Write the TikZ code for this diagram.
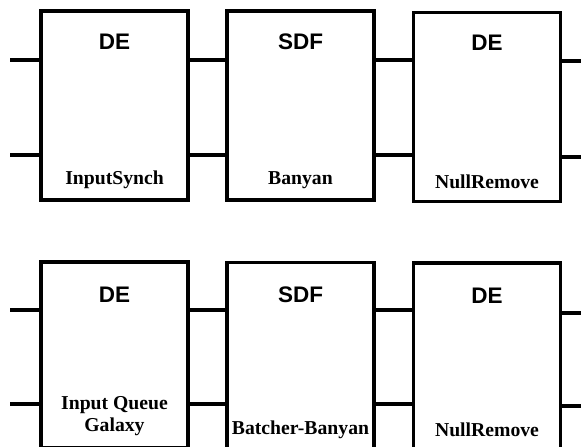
\documentclass[tikz,border=0pt]{standalone}
\usepackage{fontspec}
\setmainfont{Liberation Serif}
\newfontfamily\domainfont{Liberation Sans}
\usepackage{tikz}
\usetikzlibrary{positioning}
\tikzstyle{block}=[draw=black,line width=2.6pt,shape=rectangle,minimum width=3.675cm,inner sep=0mm]
\tikzstyle{domtag}=[inner sep=0mm,font=\domainfont\bfseries\fontsize{16}{17}\selectfont]
\tikzstyle{starname}=[inner sep=0mm,align=center,font=\bfseries\fontsize{14}{16}\selectfont]
\tikzstyle{wire}=[line width=2.6pt]

\begin{document}
\begin{tikzpicture}[x=0.025cm,y=-0.025cm]
	\useasboundingbox (0,0) rectangle (581,447);
	% upper row
	\node [block,minimum height=4.725cm] (de1) at (114.5,105.5) {};
	\node [block,minimum height=4.725cm] (sdf1) at (300.5,105.5) {};
	\node [block,minimum height=4.725cm] (nr1) at (487,107) {};
	\node [domtag] (de1 dom) at (114.5,42) {DE};
	\node [domtag] (sdf1 dom) at (300.5,42) {SDF};
	\node [domtag] (nr1 dom) at (487,43) {DE};
	\node [starname] (de1 name) at (114.5,180) {InputSynch};
	\node [starname] (sdf1 name) at (300.5,180) {Banyan};
	\node [starname] (nr1 name) at (487,182) {NullRemove};
	\coordinate (in1a) at (10,60);
	\coordinate (in1b) at (10,155);
	\coordinate (out1a) at (581,61);
	\coordinate (out1b) at (581,157);
	\draw [wire] (in1a) to (de1.west |- in1a);
	\draw [wire] (in1b) to (de1.west |- in1b);
	\draw [wire] (de1.east |- in1a) to (sdf1.west |- in1a);
	\draw [wire] (de1.east |- in1b) to (sdf1.west |- in1b);
	\draw [wire] (sdf1.east |- in1a) to (nr1.west |- in1a);
	\draw [wire] (sdf1.east |- in1b) to (nr1.west |- in1b);
	\draw [wire] (nr1.east |- out1a) to (out1a);
	\draw [wire] (nr1.east |- out1b) to (out1b);
	% lower row
	\node [block,minimum height=4.65cm] (de2) at (114.5,355) {};
	\node [block,minimum height=4.65cm] (sdf2) at (300.5,355.5) {};
	\node [block,minimum height=4.65cm] (nr2) at (487,356) {};
	\node [domtag] (de2 dom) at (114.5,295) {DE};
	\node [domtag] (sdf2 dom) at (300.5,295) {SDF};
	\node [domtag] (nr2 dom) at (487,296) {DE};
	\node [starname] (de2 name) at (114.5,416) {Input Queue\\Galaxy};
	\node [starname] (sdf2 name) at (300.5,430) {Batcher-Banyan};
	\node [starname] (nr2 name) at (487,430) {NullRemove};
	\coordinate (in2a) at (10,310);
	\coordinate (in2b) at (10,404);
	\coordinate (out2a) at (581,313);
	\coordinate (out2b) at (581,406);
	\draw [wire] (in2a) to (de2.west |- in2a);
	\draw [wire] (in2b) to (de2.west |- in2b);
	\draw [wire] (de2.east |- in2a) to (sdf2.west |- in2a);
	\draw [wire] (de2.east |- in2b) to (sdf2.west |- in2b);
	\draw [wire] (sdf2.east |- in2a) to (nr2.west |- in2a);
	\draw [wire] (sdf2.east |- in2b) to (nr2.west |- in2b);
	\draw [wire] (nr2.east |- out2a) to (out2a);
	\draw [wire] (nr2.east |- out2b) to (out2b);
\end{tikzpicture}
\end{document}
